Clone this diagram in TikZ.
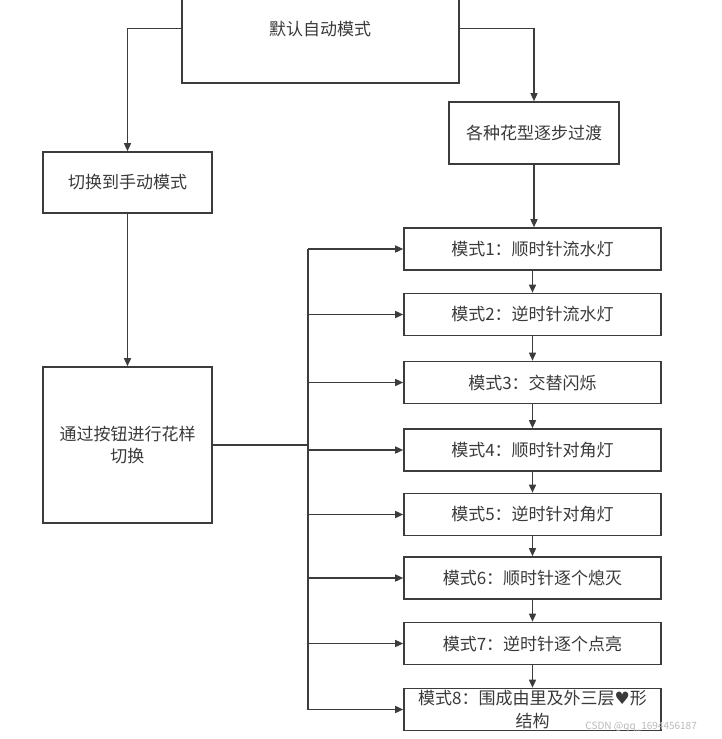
\documentclass[tikz,border=0pt]{standalone}
\usepackage{fontspec}
\setmainfont{Noto Sans CJK SC}
\newfontfamily\symfont{DejaVu Sans}
\usetikzlibrary{arrows.meta}
\definecolor{ln}{HTML}{3C3C3C}
\definecolor{tx}{HTML}{3A3A3A}
\tikzset{
  box/.style={draw=ln, line width=1.6pt, fill=white, text=tx, font=\fontsize{17}{21}\selectfont, inner sep=2pt},
  modebox/.style={box, minimum width=257pt, minimum height=42pt},
  arr/.style={draw=ln, line width=1.4pt, -{Triangle[length=8pt,width=7pt]}},
  wire/.style={draw=ln, line width=1.4pt}
}
\begin{document}
\begin{tikzpicture}[x=1pt,y=-1pt]
\useasboundingbox (0,0) rectangle (721,739);
\node[box, minimum width=277pt, minimum height=100pt, anchor=south] (top) at (320.5,84) {};
\node[text=tx, font=\fontsize{17}{21}\selectfont] (toptext) at (320,29) {默认自动模式};
\node[box, minimum width=169pt, minimum height=61pt] (manual) at (127.5,182.5) {切换到手动模式};
\node[box, minimum width=170pt, minimum height=62pt] (flow) at (534,133) {各种花型逐步过渡};
\node[box, minimum width=169pt, minimum height=156pt, align=center, font=\fontsize{17}{22}\selectfont] (btn) at (127.5,445) {通过按钮进行花样\\切换};
\node[modebox] (m1) at (532.5,249) {模式1：顺时针流水灯};
\node[modebox] (m2) at (532.5,314.5) {模式2：逆时针流水灯};
\node[modebox] (m3) at (532.5,382.5) {模式3：交替闪烁};
\node[modebox] (m4) at (532.5,450) {模式4：顺时针对角灯};
\node[modebox] (m5) at (532.5,514.5) {模式5：逆时针对角灯};
\node[modebox] (m6) at (532.5,578) {模式6：顺时针逐个熄灭};
\node[modebox] (m7) at (532.5,643.5) {模式7：逆时针逐个点亮};
\node[modebox, align=center, font=\fontsize{17}{23}\selectfont, inner sep=0pt] (m8) at (532.5,709.5) {模式8：围成由里及外三层{\symfont ♥}形\\结构};
\coordinate (bus) at (308,445);
\draw[arr] ([yshift=5pt]top.west) -| (manual.north);
\draw[arr] ([yshift=5pt]top.east) -| (flow.north);
\draw[arr] (flow.south) -- (flow.south |- m1.north);
\draw[arr] (manual.south) -- (btn.north);
\foreach \a/\b in {m1/m2,m2/m3,m3/m4,m4/m5,m5/m6,m6/m7,m7/m8}
  \draw[arr] (\a.south) -- (\b.north);
\draw[wire] (btn.east) -- (bus);
\draw[wire] (bus |- m1.west) -- (bus |- m8.west);
\foreach \m in {m1,m2,m3,m4,m5,m6,m7,m8}
  \draw[arr] (bus |- \m.west) -- (\m.west);
\node[text=gray!55, font=\fontsize{10}{12}\selectfont, anchor=east, inner sep=0pt] (wm) at (697,727) {CSDN @qq\_1694456187};
\end{tikzpicture}
\end{document}
